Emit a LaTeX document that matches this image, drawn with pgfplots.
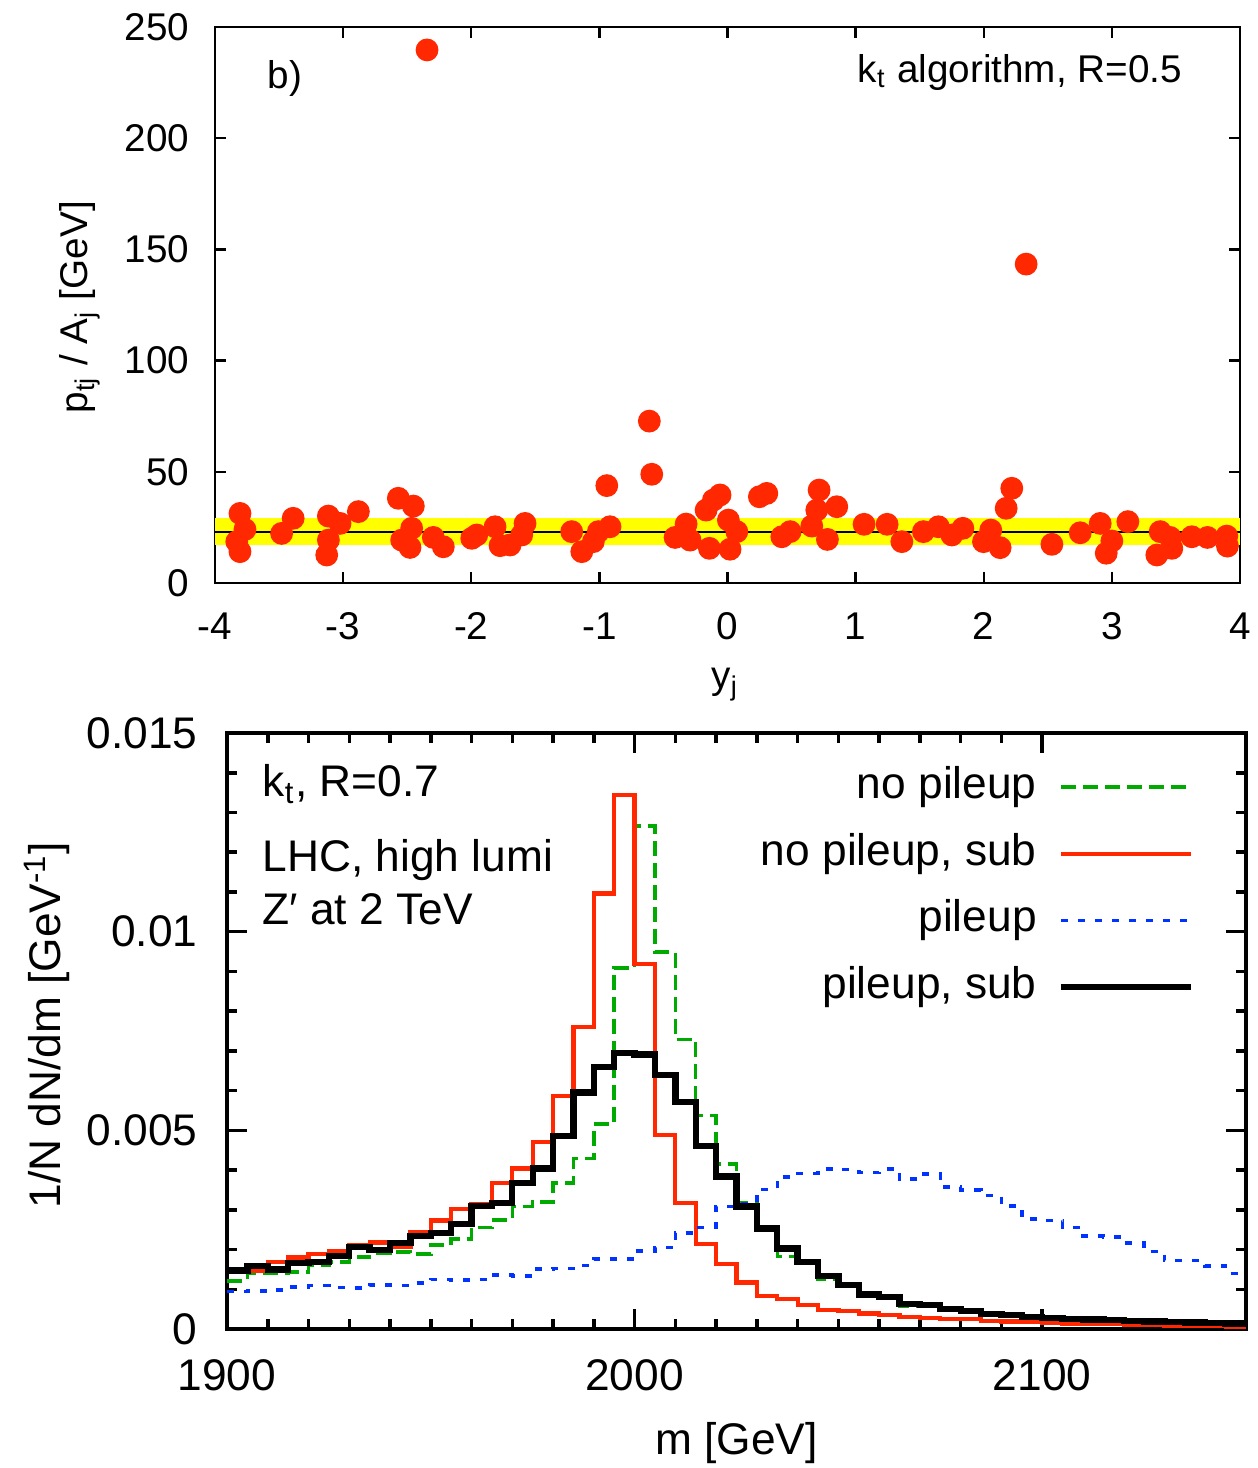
\documentclass[border=0pt]{standalone}
\usepackage{fontspec}
\setmainfont{Liberation Sans}
\usepackage{pgfplots}
\usepackage{pgfplotstable}
\pgfplotsset{compat=1.18}

\definecolor{ptred}{RGB}{255,40,0}
\definecolor{npgreen}{RGB}{0,170,0}
\definecolor{pblue}{RGB}{0,51,255}
\definecolor{bandyellow}{RGB}{255,255,0}

% jets: rapidity y_j and p_tj/A_j [GeV]
\pgfplotstableread{
y      r
-3.805 31.3
-3.766 24.1
-3.830 18.6
-3.805 14.1
-3.480 22.3
-3.390 29.1
-3.115 30.1
-3.024 26.8
-2.881 32.1
-3.115 19.3
-3.128 12.6
-2.569 38.1
-2.452 34.6
-2.465 24.6
-2.543 19.3
-2.478 16.0
-2.296 20.5
-2.218 16.3
-1.996 20.1
-1.957 21.6
-1.814 25.3
-1.775 16.8
-1.697 17.1
-1.580 26.8
-1.606 21.6
-1.216 23.1
-1.137 14.1
-1.047 18.6
-1.008 23.1
-0.917 25.3
-0.942 43.8
-0.610 72.8
-0.591 48.9
-0.409 20.5
-0.323 26.5
-0.292 19.3
-0.141 15.6
-0.167 32.8
-0.110 37.3
-0.058 39.6
0.007 28.3
0.073 23.1
0.020 15.2
0.249 38.8
0.307 40.3
0.424 20.8
0.489 23.1
0.715 41.8
0.697 32.8
0.658 25.6
0.853 34.3
0.780 19.6
1.066 26.4
1.246 26.4
1.361 18.6
1.529 23.1
1.646 25.3
1.751 21.6
1.837 24.6
1.998 18.6
2.055 23.8
2.128 15.9
2.175 33.6
2.219 42.6
2.532 17.4
2.753 22.6
2.909 26.8
3.000 18.9
2.956 13.4
3.125 27.6
3.351 12.6
3.377 23.1
3.455 20.5
3.468 15.6
3.624 20.8
3.746 20.5
3.897 21.1
3.902 16.6
-2.345 239.7
2.331 143.4
}\jets

% mass distributions, 5 GeV bins (left edges; last row closes the final bin)
\pgfplotstableread{
m     np      nps     pu      pus
1900  0.00121 0.00150 0.00094 0.00147
1905  0.00140 0.00146 0.00096 0.00159
1910  0.00140 0.00168 0.00098 0.00150
1915  0.00143 0.00180 0.00106 0.00167
1920  0.00161 0.00189 0.00109 0.00169
1925  0.00169 0.00197 0.00105 0.00184
1930  0.00181 0.00210 0.00103 0.00206
1935  0.00190 0.00218 0.00111 0.00199
1940  0.00194 0.00207 0.00110 0.00216
1945  0.00189 0.00243 0.00116 0.00234
1950  0.00211 0.00273 0.00125 0.00241
1955  0.00226 0.00302 0.00123 0.00264
1960  0.00255 0.00315 0.00125 0.00310
1965  0.00274 0.00367 0.00136 0.00318
1970  0.00308 0.00404 0.00133 0.00368
1975  0.00320 0.00471 0.00151 0.00404
1980  0.00368 0.00587 0.00152 0.00486
1985  0.00429 0.00761 0.00160 0.00595
1990  0.00516 0.01096 0.00176 0.00660
1995  0.00909 0.01344 0.00176 0.00695
2000  0.01266 0.00918 0.00197 0.00691
2005  0.00949 0.00489 0.00205 0.00639
2010  0.00729 0.00318 0.00242 0.00572
2015  0.00537 0.00213 0.00256 0.00461
2020  0.00415 0.00164 0.00308 0.00384
2025  0.00318 0.00117 0.00316 0.00308
2030  0.00253 0.00083 0.00351 0.00253
2035  0.00182 0.00075 0.00383 0.00203
2040  0.00168 0.00060 0.00392 0.00169
2045  0.00125 0.00048 0.00403 0.00133
2050  0.00110 0.00045 0.00402 0.00111
2055  0.00086 0.00039 0.00394 0.00087
2060  0.00077 0.00035 0.00403 0.00081
2065  0.00058 0.00031 0.00377 0.00063
2070  0.00058 0.00027 0.00390 0.00060
2075  0.00050 0.00025 0.00358 0.00050
2080  0.00045 0.00025 0.00350 0.00046
2085  0.00037 0.00021 0.00336 0.00037
2090  0.00034 0.00019 0.00310 0.00035
2095  0.00030 0.00017 0.00277 0.00031
2100  0.00027 0.00015 0.00273 0.00027
2105  0.00025 0.00014 0.00256 0.00025
2110  0.00023 0.00013 0.00234 0.00024
2115  0.00021 0.00012 0.00232 0.00022
2120  0.00020 0.00011 0.00216 0.00020
2125  0.00018 0.00010 0.00195 0.00019
2130  0.00017 0.00009 0.00172 0.00018
2135  0.00016 0.00008 0.00172 0.00016
2140  0.00015 0.00007 0.00159 0.00015
2145  0.00014 0.00006 0.00140 0.00014
2150  0.00014 0.00006 0.00140 0.00014
}\mass

\begin{document}
\begin{tikzpicture}
\useasboundingbox (0,0) rectangle (125.8mm,-146.8mm);

% ---------------- upper panel: p_tj/A_j versus y_j ----------------
\begin{axis}[
  at={(21.5mm,-58.3mm)}, anchor=south west,
  scale only axis, width=102.5mm, height=55.6mm,
  xmin=-4, xmax=4, ymin=0, ymax=250,
  xtick={-4,-3,...,4}, ytick={0,50,...,250},
  axis line style={line width=0.7pt},
  every tick/.style={black, line width=0.7pt},
  major tick length=1.1mm,
  font=\fontsize{11}{13}\selectfont,
  /pgf/number format/assume math mode=true,
  xticklabel style={anchor=base, inner sep=0pt, yshift=-5.6mm},
  yticklabel style={anchor=east, inner sep=0pt, xshift=-2.5mm},
  xlabel={y\textsubscript{j}},
  xlabel style={at={(axis description cs:0.4976,-0.19)}, anchor=base, inner sep=0pt},
  ylabel={p\textsubscript{tj} / A\textsubscript{j} [GeV]},
  ylabel style={at={(axis description cs:-0.132,0.496)}, anchor=center, inner sep=0pt},
]
\addplot[fill=bandyellow, draw=none] coordinates {(-4,16.9) (4,16.9) (4,29.3) (-4,29.3)} -- cycle;
\addplot[black, line width=0.5pt] coordinates {(-4,23.1) (4,23.1)};
\addplot[only marks, mark=*, mark size=1.07mm, ptred, mark options={draw=ptred, fill=ptred}] table[x=y, y=r] {\jets};
\node[anchor=base west, inner sep=0pt] at (rel axis cs:0.0507,0.89) {b)};
\node[anchor=base east, inner sep=0pt] at (rel axis cs:0.944,0.901) {k\textsubscript{t} algorithm, R=0.5};
\end{axis}

% ---------------- lower panel: mass distributions ----------------
\begin{axis}[
  at={(22.7mm,-132.9mm)}, anchor=south west,
  scale only axis, width=101.9mm, height=59.6mm,
  xmin=1900, xmax=2150, ymin=0, ymax=0.015,
  xtick={1900,2000,2100}, xticklabels={1900,2000,2100},
  minor x tick num=9,
  ytick={0,0.005,0.01,0.015}, yticklabels={0,0.005,0.01,0.015},
  minor y tick num=4,
  scaled y ticks=false,
  axis line style={line width=1pt},
  every tick/.style={black, line width=1pt},
  major tick length=2mm, minor tick length=1mm,
  font=\fontsize{12.6}{14.8}\selectfont,
  /pgf/number format/assume math mode=true,
  xticklabel style={anchor=base, inner sep=0pt, yshift=-6.1mm},
  yticklabel style={anchor=east, inner sep=0pt, xshift=-2.9mm},
  xlabel={m [GeV]},
  xlabel style={at={(axis description cs:0.5,-0.211)}, anchor=base, inner sep=0pt},
  ylabel={1/N dN/dm [GeV\textsuperscript{-1}]},
  ylabel style={at={(axis description cs:-0.1766,0.51)}, anchor=center, inner sep=0pt},
  legend plot pos=right,
  legend cell align=right,
  legend image code/.code={\draw[#1] (0mm,0mm) -- (13mm,0mm);},
  legend style={draw=none, fill=none, inner sep=0pt, outer sep=0pt,
    at={(axis description cs:0.949,0.9455)}, anchor=north east,
    row sep=2.37mm, column sep=2.1mm,
    nodes={inner sep=0pt, text height=3.3mm, text depth=1mm}},
]
\addplot[const plot, npgreen, line width=1pt, dash pattern=on 1.5mm off 0.7mm] table[x=m, y=np] {\mass};
\addlegendentry{no pileup}
\addplot[const plot, ptred, line width=1.2pt] table[x=m, y=nps] {\mass};
\addlegendentry{no pileup, sub}
\addplot[const plot, pblue, line width=1pt, dash pattern=on 0.7mm off 1.0mm] table[x=m, y=pu] {\mass};
\addlegendentry{pileup}
\addplot[const plot, black, line width=1.8pt] table[x=m, y=pus] {\mass};
\addlegendentry{pileup, sub}
\node[anchor=base west, inner sep=0pt] at (rel axis cs:0.0343,0.893) {k\textsubscript{t}, R=0.7};
\node[anchor=base west, inner sep=0pt] at (rel axis cs:0.0343,0.767) {LHC, high lumi};
\node[anchor=base west, inner sep=0pt] at (rel axis cs:0.0343,0.678) {Z′ at 2 TeV};
\end{axis}
\end{tikzpicture}
\end{document}
